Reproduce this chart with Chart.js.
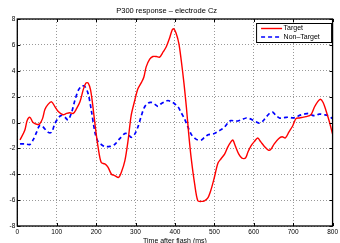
<!DOCTYPE html>
<html>
<head>
<meta charset="utf-8">
<script src="https://cdn.jsdelivr.net/npm/chart.js@4.4.0/dist/chart.umd.min.js"></script>
<style>
  html, body { margin: 0; padding: 0; background: #fff; }
  #wrap { width: 340px; height: 243px; position: relative; }
</style>
</head>
<body>
<div id="wrap"><canvas id="erpChart"></canvas></div>
<script>
const titleText = 'P300 response \u2013 electrode Cz';
const xTitle = 'Time after flash (ms)';
const seriesLabels = ['Target', 'Non\u2013Target'];

// Target (red, solid)
const targetTimes = [7, 19, 25, 32, 40, 51, 57, 64, 70, 78, 87, 95, 104, 116, 125, 133, 142, 150, 159, 167, 174, 180, 186, 192, 198, 205, 213, 222, 230, 239, 247, 257, 264, 273, 281, 289, 298, 306, 315, 321, 327, 336, 344, 353, 361, 370, 378, 386, 393, 397, 403, 410, 416, 423, 429, 435, 441, 450, 458, 467, 475, 484, 492, 500, 509, 517, 526, 534, 542, 547, 553, 562, 570, 579, 585, 593, 602, 610, 618, 627, 638, 644, 652, 663, 672, 680, 689, 699, 707, 716, 724, 732, 745, 754, 762, 769, 776, 783, 791, 800];
const targetValues = [-1.35, -0.6, 0.15, 0.4, 0.0, -0.15, -0.1, 0.3, 1.0, 1.4, 1.6, 1.25, 0.85, 0.6, 0.7, 0.75, 0.7, 1.05, 1.6, 2.5, 3.05, 3.05, 2.5, 1.2, -0.35, -1.9, -3.1, -3.2, -3.45, -4.0, -4.1, -4.25, -3.85, -2.95, -1.4, 0.55, 1.7, 2.6, 3.1, 3.5, 4.3, 4.9, 5.1, 5.1, 5.05, 5.45, 5.85, 6.5, 7.15, 7.25, 6.9, 6.1, 4.8, 3.0, 1.2, -0.9, -2.7, -4.75, -6.05, -6.1, -6.05, -5.8, -5.15, -4.25, -3.15, -2.8, -2.45, -1.9, -1.5, -1.35, -1.8, -2.45, -2.75, -2.75, -2.3, -1.8, -1.45, -1.2, -1.5, -1.85, -2.15, -2.05, -1.65, -1.25, -1.1, -1.2, -0.75, -0.25, 0.3, 0.35, 0.4, 0.45, 0.6, 1.2, 1.6, 1.8, 1.55, 0.95, 0.15, -0.9];

// Non-Target (blue, dashed)
const nonTargetTimes = [7, 19, 32, 40, 49, 56, 62, 70, 78, 87, 95, 104, 112, 121, 129, 138, 146, 155, 163, 171, 180, 188, 197, 205, 213, 222, 235, 247, 260, 273, 281, 289, 298, 306, 315, 323, 332, 340, 349, 357, 365, 374, 382, 391, 399, 408, 416, 424, 433, 441, 450, 458, 467, 475, 484, 492, 500, 509, 517, 526, 534, 542, 555, 568, 581, 589, 597, 606, 614, 623, 631, 640, 648, 656, 665, 673, 682, 690, 699, 707, 716, 728, 741, 749, 758, 766, 779, 787, 800];
const nonTargetValues = [-1.65, -1.65, -1.7, -1.35, -0.75, -0.25, -0.25, -0.5, -0.75, -0.75, -0.1, 0.35, 0.55, 0.4, 0.2, 0.8, 1.7, 2.5, 2.8, 2.8, 2.2, 0.9, -0.75, -1.5, -1.7, -1.85, -1.85, -1.7, -1.25, -0.85, -0.9, -1.15, -0.9, -0.35, 0.55, 1.2, 1.5, 1.55, 1.4, 1.25, 1.45, 1.6, 1.7, 1.6, 1.45, 1.2, 0.75, 0.3, -0.35, -0.9, -1.2, -1.35, -1.35, -1.15, -0.95, -0.9, -0.85, -0.7, -0.55, -0.35, -0.05, 0.15, 0.1, 0.2, 0.35, 0.3, 0.2, 0.05, -0.05, 0.1, 0.4, 0.7, 0.8, 0.55, 0.35, 0.35, 0.4, 0.4, 0.35, 0.4, 0.55, 0.65, 0.7, 0.55, 0.55, 0.65, 0.6, 0.55, 0.3];

const xTicks = { min: 0, max: 800, step: 100 };
const yTicks = { min: -8, max: 8, step: 2 };

const toPoints = (xs, ys) => xs.map((x, i) => ({ x: x, y: ys[i] }));

const fontFamily = '"Liberation Sans", Arial, Helvetica, sans-serif';

// box round the plot, inward ticks, and the legend inside the top right corner
const matlabFrame = {
  id: 'matlabFrame',
  afterDraw(chart) {
    const { ctx, chartArea: a, scales } = chart;
    ctx.save();
    ctx.strokeStyle = '#000';
    ctx.lineWidth = 1;
    const tickLen = 3;
    ctx.beginPath();
    scales.x.ticks.forEach(t => {
      const px = Math.round(scales.x.getPixelForValue(t.value)) + 0.5;
      ctx.moveTo(px, a.bottom); ctx.lineTo(px, a.bottom - tickLen);
      ctx.moveTo(px, a.top); ctx.lineTo(px, a.top + tickLen);
    });
    scales.y.ticks.forEach(t => {
      const py = Math.round(scales.y.getPixelForValue(t.value)) + 0.5;
      ctx.moveTo(a.left, py); ctx.lineTo(a.left + tickLen, py);
      ctx.moveTo(a.right, py); ctx.lineTo(a.right - tickLen, py);
    });
    ctx.stroke();
    ctx.lineWidth = 1.3;
    ctx.strokeRect(a.left, a.top, a.right - a.left, a.bottom - a.top);

    // legend
    const w = 75, h = 19;
    const lx = a.right - w - 1.5, ly = a.top + 4;
    ctx.fillStyle = '#fff';
    ctx.fillRect(lx, ly, w, h);
    ctx.lineWidth = 1;
    ctx.strokeRect(lx + 0.5, ly + 0.5, w, h);
    ctx.font = '7px ' + fontFamily;
    ctx.textBaseline = 'middle';
    chart.data.datasets.forEach((ds, i) => {
      const cy = ly + 5.5 + i * 8.5;
      ctx.strokeStyle = ds.borderColor;
      ctx.lineWidth = ds.borderWidth;
      ctx.setLineDash(ds.borderDash || []);
      ctx.beginPath();
      ctx.moveTo(lx + 5, cy); ctx.lineTo(lx + 26, cy);
      ctx.stroke();
      ctx.setLineDash([]);
      ctx.fillStyle = '#000';
      ctx.fillText(ds.label, lx + 27.5, cy);
    });
    ctx.restore();
  }
};

new Chart(document.getElementById('erpChart'), {
  type: 'line',
  data: {
    datasets: [
      {
        label: seriesLabels[0],
        data: toPoints(targetTimes, targetValues),
        borderColor: '#ff0000',
        borderWidth: 1.4,
        pointRadius: 0,
        tension: 0.3,
        fill: false
      },
      {
        label: seriesLabels[1],
        data: toPoints(nonTargetTimes, nonTargetValues),
        borderColor: '#0000ff',
        borderWidth: 1.7,
        borderDash: [4, 3],
        pointRadius: 0,
        tension: 0.3,
        fill: false
      }
    ]
  },
  options: {
    responsive: true,
    maintainAspectRatio: false,
    animation: false,
    devicePixelRatio: 1,
    layout: { padding: { left: 0, right: 6.7, top: 0, bottom: -2 } },
    plugins: {
      legend: { display: false },
      tooltip: { enabled: false },
      title: {
        display: true,
        text: titleText,
        color: '#000',
        font: { family: fontFamily, size: 7.5, weight: 'normal' },
        padding: { top: 6, bottom: 4 }
      }
    },
    scales: {
      x: {
        type: 'linear',
        min: xTicks.min,
        max: xTicks.max,
        afterFit: s => { s.height = 19; },
        ticks: {
          stepSize: xTicks.step,
          color: '#000',
          padding: 2,
          maxRotation: 0,
          font: { family: fontFamily, size: 6.5 }
        },
        grid: { color: '#999', lineWidth: 1, drawTicks: false },
        border: { display: false, dash: [1, 2] },
        title: {
          display: true,
          text: xTitle,
          color: '#000',
          font: { family: fontFamily, size: 7 },
          padding: { top: 0, bottom: 0 }
        }
      },
      y: {
        min: yTicks.min,
        max: yTicks.max,
        afterFit: s => { s.width = 17.3; },
        ticks: {
          stepSize: yTicks.step,
          color: '#000',
          padding: 2,
          font: { family: fontFamily, size: 6.5 }
        },
        grid: { color: '#999', lineWidth: 1, drawTicks: false },
        border: { display: false, dash: [1, 2] }
      }
    }
  },
  plugins: [matlabFrame]
});
</script>
</body>
</html>
